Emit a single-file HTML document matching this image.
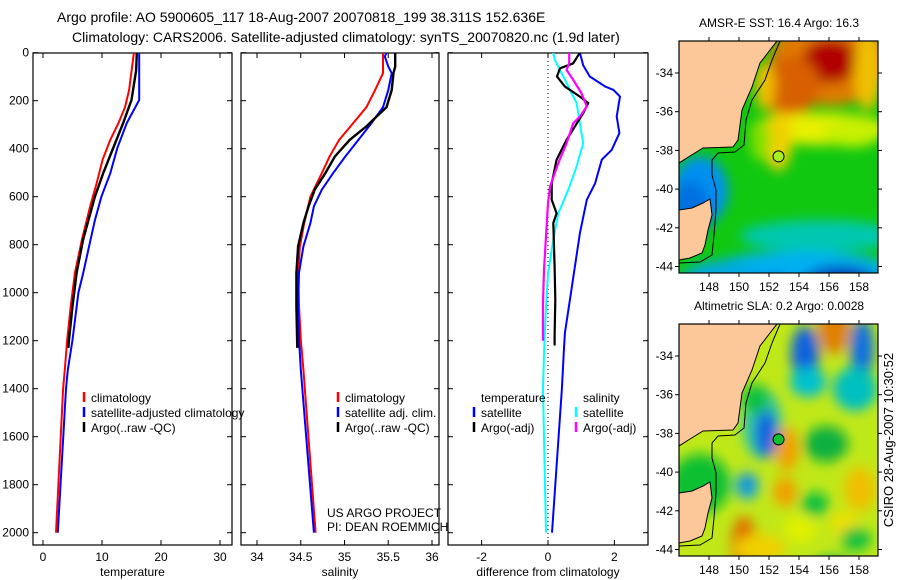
<!DOCTYPE html>
<html><head><meta charset="utf-8"><style>
html,body{margin:0;padding:0;background:#fff;width:900px;height:580px;overflow:hidden}
svg text{font-family:"Liberation Sans",sans-serif;fill:#000}
</style></head><body>
<svg id="chart" width="900" height="580" viewBox="0 0 900 580" xmlns="http://www.w3.org/2000/svg">
<defs>
<clipPath id="clipM1"><rect x="679" y="41" width="199" height="232"/></clipPath>
<clipPath id="clipM2"><rect x="679" y="324" width="199" height="232"/></clipPath>
<clipPath id="clipP1"><rect x="33" y="53" width="199" height="492"/></clipPath>
<clipPath id="clipP2"><rect x="241" y="53" width="198" height="492"/></clipPath>
<clipPath id="clipP3"><rect x="448" y="53" width="200" height="492"/></clipPath>
<filter id="blur" x="-20%" y="-20%" width="140%" height="140%"><feGaussianBlur stdDeviation="6"/></filter>
</defs>
<text x="57" y="22" font-size="14">Argo profile: AO 5900605_117 18-Aug-2007 20070818_199 38.311S 152.636E</text>
<text x="72" y="42" font-size="14">Climatology: CARS2006. Satellite-adjusted climatology: synTS_20070820.nc (1.9d later)</text>
<g id="panels"></g>
<g id="maps"></g>
<text transform="translate(893,440) rotate(-90)" text-anchor="middle" font-size="13">CSIRO 28-Aug-2007 10:30:52</text>
</svg>
<script>
// ---------- data ----------
const tempClimP = [0,156,227,293,363,446,543,640,779,918,1057,1196,1321,1400,2000];
const tempClimV = [15.4,14.6,13.9,12.8,11.4,10.1,9.1,8.0,6.6,5.4,4.7,4.1,3.7,3.4,2.2];
const tempSatP = [0,197,293,397,502,600,698,797,920,1000,1197,1322,1400,2000];
const tempSatV = [16.3,16.3,14.2,12.6,11.4,9.9,8.8,7.9,6.8,6.0,5.0,4.2,3.9,2.5];
const tempArgoP = [0,72,197,293,397,502,600,779,918,1057,1196,1230];
const tempArgoV = [15.9,15.8,15.0,13.6,11.9,10.2,8.8,6.8,5.7,5.0,4.4,4.3];
const salClimP = [0,85,156,227,293,363,432,502,600,710,807,918,1057,1196,1321,2000];
const salClimV = [35.44,35.44,35.35,35.25,35.10,34.94,34.83,34.74,34.61,34.54,34.49,34.47,34.48,34.50,34.53,34.67];
const salSatP = [0,16,58,85,156,227,293,363,432,502,571,640,710,807,918,1057,1196,1321,2000];
const salSatV = [35.48,35.46,35.50,35.54,35.50,35.44,35.31,35.16,35.01,34.87,34.74,34.65,34.61,34.53,34.48,34.47,34.48,34.50,34.65];
const salArgoP = [0,58,85,156,227,265,307,363,432,502,571,640,710,807,918,1057,1230];
const salArgoV = [35.58,35.58,35.56,35.54,35.48,35.37,35.25,35.06,34.89,34.78,34.66,34.59,34.53,34.47,34.45,34.45,34.46];
const dTempSatP = [0,53,99,141,155,183,266,335,405,446,544,613,752,891,1030,1168,1238,1400,2000];
const dTempSatV = [0.96,1.06,1.26,1.72,1.97,2.17,2.07,2.15,1.92,1.62,1.42,1.17,0.96,0.81,0.66,0.51,0.48,0.42,0.12];
const dTempArgoP = [0,44,65,99,141,183,210,252,307,363,446,544,613,669,710,891,1030,1182,1220];
const dTempArgoV = [0.96,0.76,0.36,0.27,0.51,0.96,1.21,1.06,0.81,0.56,0.26,0.11,0.11,0.26,0.16,0.20,0.22,0.20,0.20];
const dSalSatP = [0,28,72,141,210,294,377,474,571,669,780,919,1058,1252,1400,1600,2000];
const dSalSatV = [0.16,0.20,0.36,0.61,0.86,0.96,1.06,0.86,0.61,0.31,0.16,0.0,-0.06,-0.12,-0.15,-0.12,-0.06];
const dSalArgoP = [0,44,72,113,169,224,266,294,377,460,558,627,766,905,1044,1183,1200];
const dSalArgoV = [0.64,0.64,0.56,0.76,1.01,1.17,0.96,0.76,0.56,0.31,0.06,0.0,-0.06,-0.12,-0.15,-0.15,-0.15];
const pressTicks = [0,200,400,600,800,1000,1200,1400,1600,1800,2000];
const tempTicks = [0,10,20,30];
const salTicks = [34,34.5,35,35.5,36];
const diffTicks = [-2,0,2];
const lonTicks = [148,150,152,154,156,158];
const latTicks = [-34,-36,-38,-40,-42,-44];

// ---------- axes ----------
const yP = p => 52.7 + 0.24*p;
const xT = v => 43 + 5.9*v;
const xS = v => 257 + 87.5*(v-34);
const xD = v => 548 + 33.2*v;
const NS = 'http://www.w3.org/2000/svg';
function mk(tag, attrs, parent){const e=document.createElementNS(NS,tag);for(const k in attrs)e.setAttribute(k,attrs[k]);parent.appendChild(e);return e;}
const panels = document.getElementById('panels');

function panel(name, x0, x1, xf, ticks, label, showY){
  const g = mk('g',{},panels);
  
  
  const r = mk('rect',{x:x0,y:53,width:x1-x0,height:492,fill:'none',stroke:'#000','stroke-width':1.2},g);
  
  
  pressTicks.forEach(p=>{
    const y=yP(p);
    mk('line',{x1:x0,y1:y,x2:x0+5,y2:y,stroke:'#000'},g);
    mk('line',{x1:x1,y1:y,x2:x1-5,y2:y,stroke:'#000'},g);
    if(showY){
      const t=mk('text',{x:x0-4,y:y+4,'text-anchor':'end','font-size':12},g);
      t.textContent=p;
      
      
    }
  });
  ticks.forEach(v=>{
    const x=xf(v);
    mk('line',{x1:x,y1:53,x2:x,y2:58,stroke:'#000'},g);
    mk('line',{x1:x,y1:545,x2:x,y2:540,stroke:'#000'},g);
    const t=mk('text',{x:x,y:561,'text-anchor':'middle','font-size':12},g);
    t.textContent=v;
    
    
  });
  const t=mk('text',{x:(x0+x1)/2,y:576,'text-anchor':'middle','font-size':12},g);
  t.textContent=label;
  
  
  return g;
}
function series(g, name, P, V, xf, color, w, clip){
  const pts=P.map((p,i)=>xf(V[i]).toFixed(1)+','+yP(p).toFixed(1)).join(' ');
  const l=mk('polyline',{points:pts,fill:'none',stroke:color,'stroke-width':w,'clip-path':'url(#'+clip+')'},g);
  
  
}
function legend(g, x, y, color, text, name){
  if(color) mk('line',{x1:x,y1:y-10,x2:x,y2:y,stroke:color,'stroke-width':2.5},g);
  const t=mk('text',{x:x+7,y:y,'font-size':12},g);
  t.textContent=text;
  
  
}

const g1 = panel('temperature', 33, 232, xT, tempTicks, 'temperature', true);
series(g1,'temp-climatology-line',tempClimP,tempClimV,xT,'#f00',2,'clipP1');
series(g1,'temp-satellite-line',tempSatP,tempSatV,xT,'#00f',2,'clipP1');
series(g1,'temp-argo-line',tempArgoP,tempArgoV,xT,'#000',2.4,'clipP1');
legend(g1,84,402,'#f00','climatology','legend-climatology');
legend(g1,84,417,'#00f','satellite-adjusted climatology','legend-satellite');
legend(g1,84,432,'#000','Argo(..raw -QC)','legend-argo');

const g2 = panel('salinity', 241, 439, xS, salTicks, 'salinity', false);
series(g2,'sal-climatology-line',salClimP,salClimV,xS,'#f00',2,'clipP2');
series(g2,'sal-satellite-line',salSatP,salSatV,xS,'#00f',2,'clipP2');
series(g2,'sal-argo-line',salArgoP,salArgoV,xS,'#000',2.4,'clipP2');
legend(g2,338,402,'#f00','climatology','legend-climatology');
legend(g2,338,417,'#00f','satellite adj. clim.','legend-satellite');
legend(g2,338,432,'#000','Argo(..raw -QC)','legend-argo');
const t1=mk('text',{x:327,y:517,'font-size':12},g2);t1.textContent='US ARGO PROJECT';


const t2=mk('text',{x:327,y:531,'font-size':12},g2);t2.textContent='PI: DEAN ROEMMICH';



const g3 = panel('difference', 448, 648, xD, diffTicks, 'difference from climatology', false);
mk('line',{x1:xD(0),y1:53,x2:xD(0),y2:545,stroke:'#000','stroke-dasharray':'1,3'},g3);
series(g3,'diff-temp-satellite-line',dTempSatP,dTempSatV,xD,'#00f',2,'clipP3');
series(g3,'diff-sal-satellite-line',dSalSatP,dSalSatV,xD,'#0ff',2,'clipP3');
series(g3,'diff-temp-argo-line',dTempArgoP,dTempArgoV,xD,'#000',2.2,'clipP3');
series(g3,'diff-sal-argo-line',dSalArgoP,dSalArgoV,xD,'#f0f',2.2,'clipP3');
legend(g3,474,402,null,'temperature','legend-temperature-header');
legend(g3,474,417,'#00f','satellite','legend-temp-satellite');
legend(g3,474,432,'#000','Argo(-adj)','legend-temp-argo');
legend(g3,576,402,null,'salinity','legend-salinity-header');
legend(g3,576,417,'#0ff','satellite','legend-sal-satellite');
legend(g3,576,432,'#f0f','Argo(-adj)','legend-sal-argo');

// ---------- maps ----------
const mapsG = document.getElementById('maps');
const lonX = lon => 709 + 15*(lon-148);
const land = "679,41 777,41 770,50 760,63 752,87 742,110 738,140 733,147 703,148 690,156 679,163 Z M679,210 692,208 703,203 710,199 712,215 708,230 705,245 702,253 690,258 679,260 Z";
const coastShelf = "780,41 772,60 765,80 752,100 746,120 744,145 735,152 718,153 712,160 712,175 716,190 716,210 714,235 712,255 700,262 679,263";
function map(name, top, title, blobs, base, markerFill, clip){
  const g=mk('g',{},mapsG);
  
  
  const latY = lat => top + 32 + 19.35*(-34-lat);
  const cg=mk('g',{'clip-path':'url(#'+clip+')'},g);
  mk('rect',{x:679,y:top,width:199,height:232,fill:base},cg);
  const bg=mk('g',{filter:'url(#blur)'},cg);
  blobs.forEach(b=>{
    const e=mk('ellipse',{cx:b[0],cy:top+b[1],rx:b[2],ry:b[3],fill:b[4]},bg);
    
    
  });
  const lp=mk('path',{d:'M'+land,fill:'#fcc89a',stroke:'#000','stroke-width':1,transform:'translate(0,'+(top-41)+')'},cg);
  
  
  mk('polyline',{points:coastShelf,fill:'none',stroke:'#000','stroke-width':1,transform:'translate(0,'+(top-41)+')'},cg);
  mk('rect',{x:679,y:top,width:199,height:232,fill:'none',stroke:'#000','stroke-width':1.2},g);
  lonTicks.forEach(v=>{
    const x=lonX(v);
    mk('line',{x1:x,y1:top,x2:x,y2:top-4,stroke:'#000'},g);
    mk('line',{x1:x,y1:top+232,x2:x,y2:top+236,stroke:'#000'},g);
    const t=mk('text',{x:x,y:top+250,'text-anchor':'middle','font-size':12},g);
    t.textContent=v;
    
    
  });
  latTicks.forEach(v=>{
    const y=latY(v);
    mk('line',{x1:679,y1:y,x2:675,y2:y,stroke:'#000'},g);
    mk('line',{x1:878,y1:y,x2:882,y2:y,stroke:'#000'},g);
    const t=mk('text',{x:673,y:y+4,'text-anchor':'end','font-size':12},g);
    t.textContent=v;
    
    
  });
  const tt=mk('text',{x:779,y:top-14,'text-anchor':'middle','font-size':12},g);
  tt.textContent=title;
  
  
  const c=mk('circle',{cx:lonX(152.636),cy:latY(-38.311),r:5.5,fill:markerFill,stroke:'#000','stroke-width':1},g);
  
  
}
map('sst-map',41,'AMSR-E SST: 16.4 Argo: 16.3',[
  [830,20,60,45,'#e07a00'],[830,20,28,22,'#b00000'],[868,30,14,40,'#f0c000'],
  [790,45,30,30,'#d86000'],[765,45,10,25,'#f0c000'],
  [820,88,70,16,'#e8f000'],[778,100,14,30,'#f0d000'],[852,92,30,14,'#c8f000'],
  [760,100,10,20,'#80e000'],
  [700,150,28,35,'#0090f0'],[690,170,20,30,'#0070e0'],
  [820,195,80,16,'#00c8b0'],[800,228,90,18,'#00b0f0'],[840,245,40,20,'#0040c0'],[855,252,30,18,'#000090'],
  [720,242,40,22,'#00a8e0'],[770,248,30,14,'#0070e0']
],'#10c810','#a8f020','clipM1');
map('sla-map',324,'Altimetric SLA: 0.2 Argo: 0.0028',[
  [805,30,14,28,'#1060e0'],[808,58,18,15,'#00c0d0'],[834,5,16,25,'#e08000'],[862,25,12,30,'#1070e0'],[855,65,22,22,'#00c0c0'],
  [762,100,20,35,'#30c8a0'],[766,110,11,24,'#1060e0'],[787,125,12,22,'#f0a000'],[747,162,12,14,'#20b0d0'],[747,160,6,8,'#1080e0'],
  [785,168,12,15,'#f0a000'],[744,222,13,30,'#e07000'],[826,120,22,18,'#10b040'],[815,180,14,12,'#10c040'],
  [860,165,16,22,'#f0c000'],[832,245,20,12,'#10b060'],[845,200,14,12,'#f0e000'],[700,160,30,30,'#10c030'],
  [755,75,14,15,'#10c040'],[760,225,25,15,'#f0d000'],[800,205,16,14,'#e0f000'],[856,215,15,12,'#10c040']
],'#c0e818','#10c030','clipM2');
</script>
</body></html>
